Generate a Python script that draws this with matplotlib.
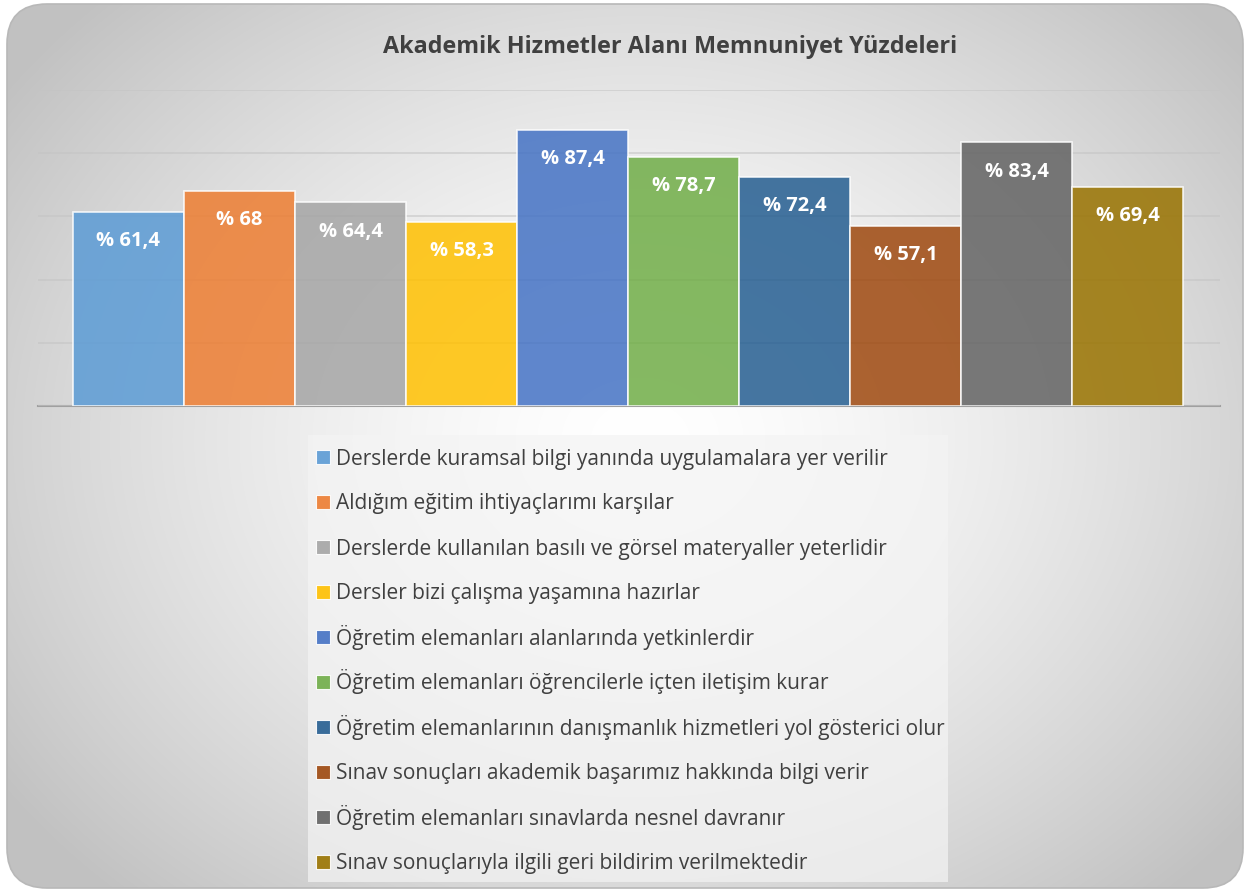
import numpy as np
import matplotlib
matplotlib.use("Agg")
import matplotlib.pyplot as plt
from matplotlib.patches import FancyBboxPatch, Rectangle

plt.rcParams['font.family'] = ['Open Sans', 'DejaVu Sans']

title = "Akademik Hizmetler Alanı Memnuniyet Yüzdeleri"
categories = [
    "Derslerde kuramsal bilgi yanında uygulamalara yer verilir",
    "Aldığım eğitim ihtiyaçlarımı karşılar",
    "Derslerde kullanılan basılı ve görsel materyaller yeterlidir",
    "Dersler bizi çalışma yaşamına hazırlar",
    "Öğretim elemanları alanlarında yetkinlerdir",
    "Öğretim elemanları öğrencilerle içten iletişim kurar",
    "Öğretim elemanlarının danışmanlık hizmetleri yol gösterici olur",
    "Sınav sonuçları akademik başarımız hakkında bilgi verir",
    "Öğretim elemanları sınavlarda nesnel davranır",
    "Sınav sonuçlarıyla ilgili geri bildirim verilmektedir",
]
values = [61.4, 68, 64.4, 58.3, 87.4, 78.7, 72.4, 57.1, 83.4, 69.4]
value_labels = ["% 61,4", "% 68", "% 64,4", "% 58,3", "% 87,4",
                "% 78,7", "% 72,4", "% 57,1", "% 83,4", "% 69,4"]
colors = ["#5B9BD5", "#ED7D31", "#A5A5A5", "#FFC000", "#4472C4",
          "#70AD47", "#255E91", "#9E480E", "#636363", "#997300"]

W, H = 1250, 892
fig = plt.figure(figsize=(W / 100, H / 100), dpi=100)
fig.patch.set_facecolor("white")

# background with radial gradient inside rounded rectangle
bg = fig.add_axes([0, 0, 1, 1], zorder=-10)
bg.set_xlim(0, W)
bg.set_ylim(H, 0)
bg.axis("off")
yy, xx = np.mgrid[0:H, 0:W]
cx, cy = 640, 440
d = np.sqrt(((xx - cx) / 700.0) ** 2 + ((yy - cy) / 560.0) ** 2)
d = np.clip(d / 1.1, 0, 1)
v = 1.0 - 0.24 * d ** 1.5
img = np.dstack([v, v, v])
im = bg.imshow(img, extent=(0, W, H, 0), interpolation="bilinear", zorder=0)
box = FancyBboxPatch((7, 4), W - 14, H - 8, boxstyle="round,pad=0,rounding_size=40",
                     facecolor="none", edgecolor="#b8b8b8", linewidth=1.2, zorder=2)
bg.add_patch(box)
im.set_clip_path(box)

# chart
ax = fig.add_axes([38 / W, 1 - 406 / H, (1220 - 38) / W, (406 - 90) / H])
ax.patch.set_alpha(0)
x = np.arange(len(values))
bars = ax.bar(x, values, width=1.0, color=colors, alpha=0.85,
              edgecolor=(1, 1, 1, 0.6), linewidth=1.2, zorder=3)
ax.set_xlim(-0.815, 9.83)
ax.set_ylim(0, 100)
ax.set_yticks([0, 20, 40, 60, 80, 100])
ax.yaxis.grid(True, color="#c4c4c4", linewidth=1.3, zorder=0)
ax.set_axisbelow(False)
for ln in ax.get_ygridlines():
    ln.set_zorder(4)
    ln.set_alpha(0.6)
ax.tick_params(left=False, bottom=False, labelleft=False, labelbottom=False)
for s in ["top", "right", "left"]:
    ax.spines[s].set_visible(False)
ax.spines["bottom"].set_color("#a0a0a0")
ax.spines["bottom"].set_linewidth(1.5)

for xi, val, lab in zip(x, values, value_labels):
    ax.annotate(lab, (xi, val), xytext=(0, -21), textcoords="offset points",
                ha="center", va="center", color="white", fontsize=14.5,
                fontweight="bold", zorder=6)

fig.text(670 / W, 1 - 47 / H, title, ha="center", va="center",
         fontsize=16.8, fontweight="bold", color="#404040")

# legend (evenly spaced rows)
lg = fig.add_axes([308 / W, 1 - 882 / H, (948 - 308) / W, (882 - 435) / H])
lg.set_xlim(308, 948)
lg.set_ylim(882, 435)
lg.axis("off")
lg.add_patch(Rectangle((308, 435), 640, 447, facecolor="#f4f4f4", alpha=0.7,
                       edgecolor="none", zorder=0))
row_y = 457 + 45 * np.arange(len(categories))
lg.scatter(np.full(len(categories), 323), row_y, marker="s", s=95,
           c=colors, alpha=0.9, edgecolors=(1, 1, 1, 0.8), linewidths=0.8, zorder=2)
for yv, lab in zip(row_y, categories):
    lg.text(336, yv + 7.5, lab, ha="left", va="baseline", fontsize=15,
            color="#404040", zorder=3)

fig.savefig("out.png", dpi=100)
